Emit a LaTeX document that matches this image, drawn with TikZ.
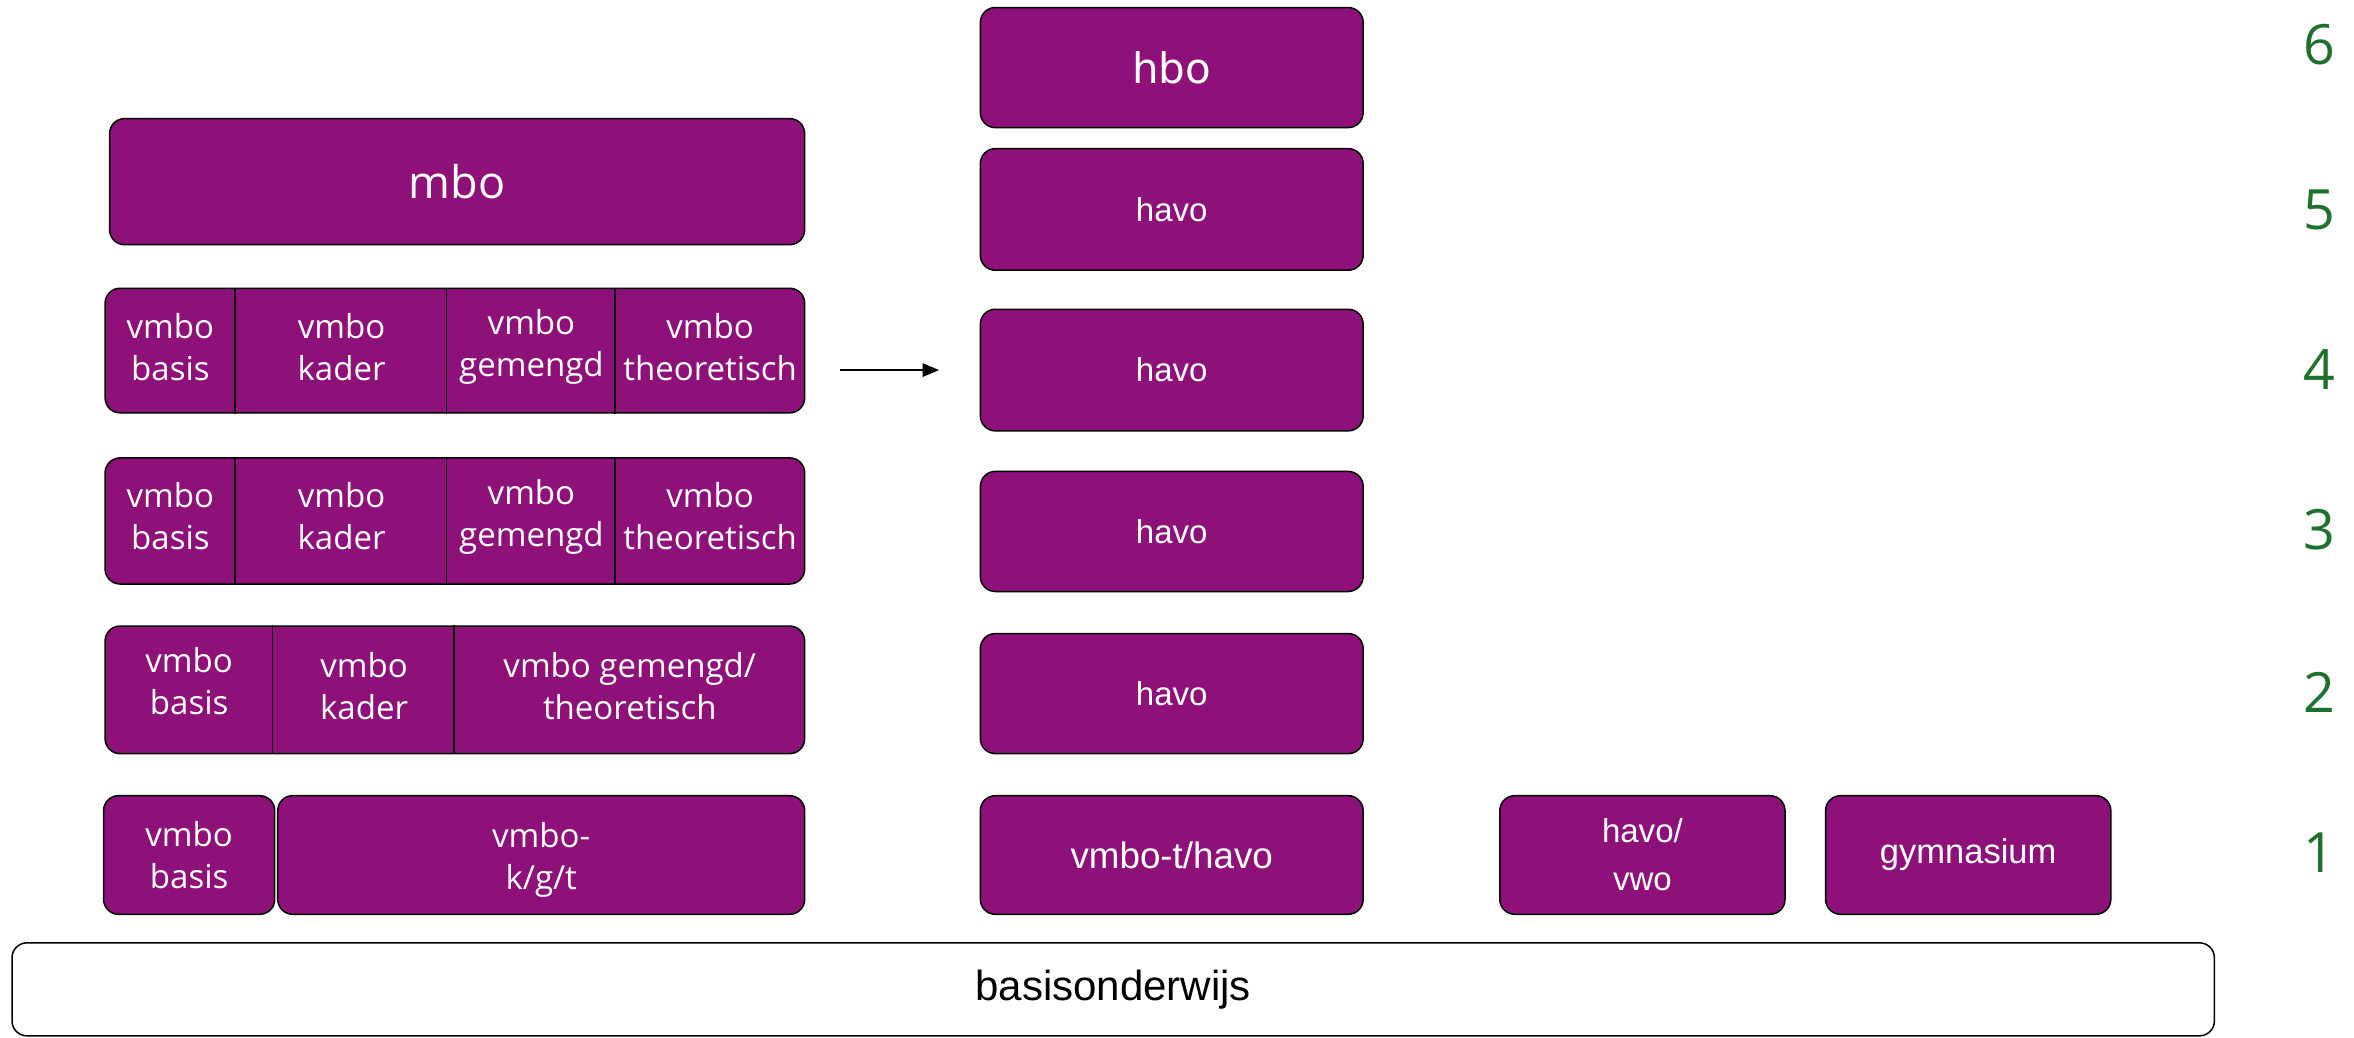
\documentclass[tikz,border=0pt]{standalone}
\usepackage{fontspec}
\setmainfont{Open Sans}
\newfontfamily\arialfont{Liberation Sans}
\newfontfamily\dejavufont{DejaVu Sans}
\usetikzlibrary{arrows.meta}
\definecolor{schoolpurple}{RGB}{142,17,122}
\definecolor{yeargreen}{RGB}{31,112,45}

\begin{document}
\begin{tikzpicture}[x=1pt,y=-1pt,
    block/.style={draw=black, line width=1pt, fill=schoolpurple, rounded corners=10pt,
      inner sep=0pt, text=white, align=center},
    divider/.style={draw=black, line width=1pt},
    celltext/.style={text=white, align=center, font=\fontsize{22}{28}\selectfont},
    havotext/.style={font=\arialfont\fontsize{22}{30}\selectfont},
    year/.style={text=yeargreen, font=\fontsize{37}{40}\selectfont}]
      \useasboundingbox (0,0) rectangle (1568,691);

      % bottom: basisonderwijs
      \node [block, fill=white, text=black, minimum width=1467pt, minimum height=62pt,
        font=\arialfont\fontsize{28}{30}\selectfont] (basis) at (741.5,659) {basisonderwijs};

      % vmbo / mbo column
      \node [block, minimum width=114pt, minimum height=79pt, font=\fontsize{22}{28}\selectfont]
        (vb1) at (126,569.5) {vmbo\\basis};
      \node [block, minimum width=351pt, minimum height=79pt] (vkgt1) at (360.5,569.5) {};
      \node [celltext] (vkgt1text) at (360.5,573) {vmbo-\\k/g/t};

      \node [block, minimum width=466pt, minimum height=85pt] (row2) at (303,459.5) {};
      \draw [divider] ([xshift=112pt]row2.north west) -- ([xshift=112pt]row2.south west);
      \draw [divider] ([xshift=233pt]row2.north west) -- ([xshift=233pt]row2.south west);
      \node [celltext] (vb2) at (126,454) {vmbo\\basis};
      \node [celltext] (vk2) at (242.5,457) {vmbo\\kader};
      \node [celltext] (vgt2) at (419.5,457) {vmbo gemengd/\\theoretisch};

      \node [block, minimum width=466pt, minimum height=84pt] (row3) at (303,347) {};
      \draw [divider] ([xshift=87pt]row3.north west) -- ([xshift=87pt]row3.south west);
      \draw [divider] ([xshift=228pt]row3.north west) -- ([xshift=228pt]row3.south west);
      \draw [divider] ([xshift=340pt]row3.north west) -- ([xshift=340pt]row3.south west);
      \node [celltext] (vb3) at (113.5,344) {vmbo\\basis};
      \node [celltext] (vk3) at (227.5,344) {vmbo\\kader};
      \node [celltext] (vg3) at (354,344) {vmbo\\gemengd};
      \node [celltext] (vt3) at (473,344) {vmbo\\theoretisch};

      \node [block, minimum width=466pt, minimum height=83pt] (row4) at (303,233.5) {};
      \draw [divider] ([xshift=87pt]row4.north west) -- ([xshift=87pt]row4.south west);
      \draw [divider] ([xshift=228pt]row4.north west) -- ([xshift=228pt]row4.south west);
      \draw [divider] ([xshift=340pt]row4.north west) -- ([xshift=340pt]row4.south west);
      \node [celltext] (vb4) at (113.5,231) {vmbo\\basis};
      \node [celltext] (vk4) at (227.5,231) {vmbo\\kader};
      \node [celltext] (vg4) at (354,231) {vmbo\\gemengd};
      \node [celltext] (vt4) at (473,231) {vmbo\\theoretisch};

      \node [block, minimum width=463pt, minimum height=84pt, font=\fontsize{30}{32}\selectfont]
        (mbo) at (304.5,121) {mbo};

      % havo column
      \node [block, havotext, minimum width=255pt, minimum height=79pt,
        font=\arialfont\fontsize{24.5}{30}\selectfont] (vthavo1) at (780.5,569.5) {vmbo-t/havo};
      \node [block, havotext, minimum width=255pt, minimum height=80pt] (havo2) at (780.5,462) {havo};
      \node [block, havotext, minimum width=255pt, minimum height=80pt] (havo3) at (780.5,354) {havo};
      \node [block, havotext, minimum width=255pt, minimum height=81pt] (havo4) at (780.5,246.5) {havo};
      \node [block, havotext, minimum width=255pt, minimum height=81pt] (havo5) at (780.5,139.5) {havo};
      \node [block, minimum width=255pt, minimum height=80pt,
        font=\dejavufont\fontsize{28}{30}\selectfont] (hbo) at (780.5,45) {hbo};

      \draw [-{Triangle[length=11pt,width=9pt]}, line width=1pt, shorten <=23pt, shorten >=27pt]
        (row4.east |- havo4.west) -- (havo4.west);

      % vwo column
      \node [block, havotext, minimum width=190pt, minimum height=79pt,
        font=\arialfont\fontsize{22}{32}\selectfont] (havovwo1) at (1094,569.5) {havo/\\vwo};
      \node [block, havotext, minimum width=190pt, minimum height=79pt,
        font=\arialfont\fontsize{23}{30}\selectfont] (gym1) at (1311,569.5) {gymnasium};

      % years
      \node [year] (year1) at (1545,568) {1};
      \node [year] (year2) at (1545,461) {2};
      \node [year] (year3) at (1545,353) {3};
      \node [year] (year4) at (1545,246) {4};
      \node [year] (year5) at (1545,140) {5};
      \node [year] (year6) at (1545,30) {6};

\end{tikzpicture}
\end{document}
